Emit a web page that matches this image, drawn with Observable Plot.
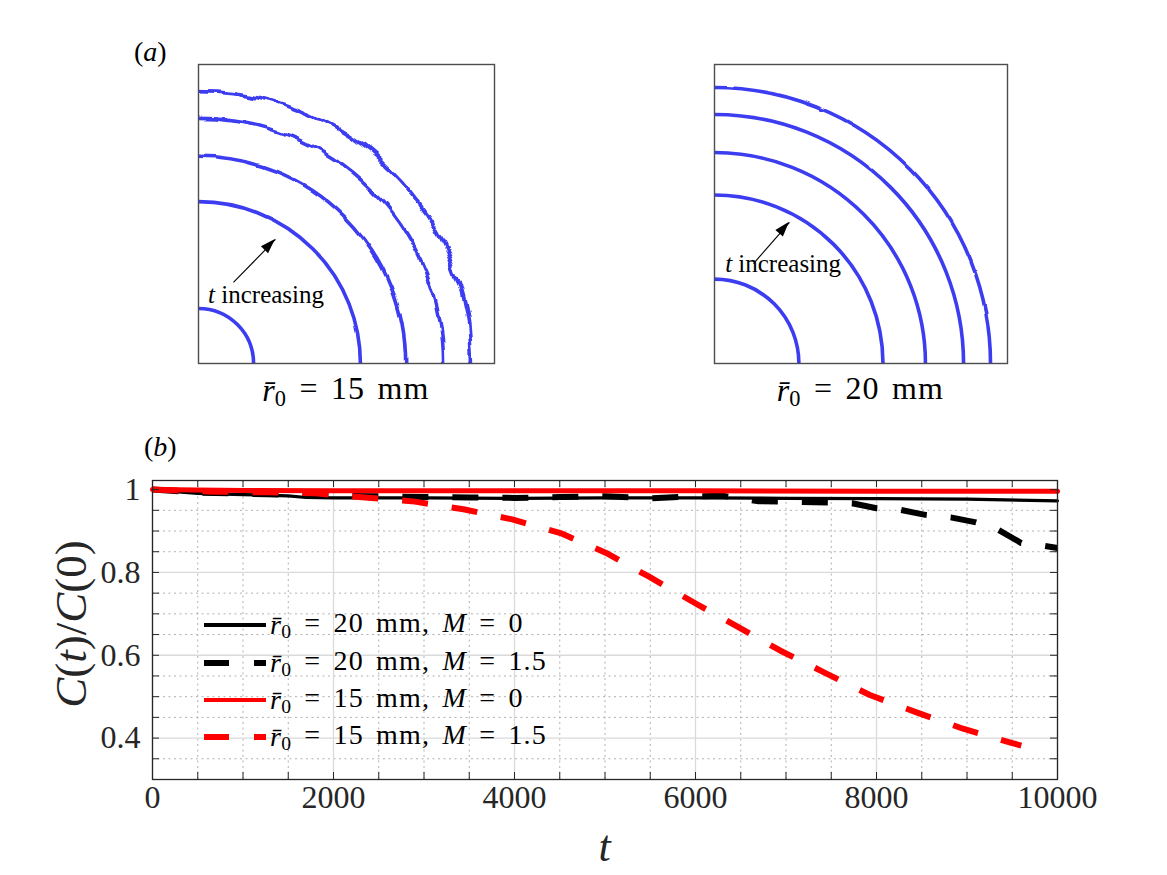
<!DOCTYPE html>
<html><head><meta charset="utf-8">
<script src="https://cdn.jsdelivr.net/npm/d3@7"></script>
<script src="https://cdn.jsdelivr.net/npm/@observablehq/plot@0.6"></script>
<style>
body{margin:0;background:#fff;}
#fig{position:relative;width:1167px;height:875px;background:#fff;overflow:hidden;}
#fig > div{position:absolute;}
</style></head><body>
<div id="fig"><div id="a1" style="left:0;top:0"></div><div id="a2" style="left:500px;top:0"></div><div id="b" style="left:0;top:420px"></div></div>
<script>
// ---------- Panel (a): front radii (fraction of box width), wiggle amplitude (px) ----------
const arcCenter = [0, 0];
const leftRadii = [0.186, 0.547, 0.700, 0.828, 0.922];
const leftWiggle = [0, 1, 2.5, 4, 5.5];
const rightRadii = [0.288, 0.575, 0.720, 0.850, 0.942];
const rightWiggle = [0, 0, 0.4, 0.8, 1.1];
const panelLabels = ["15", "20"];
const leftArrow = {x1: 0.118, y1: 0.271, x2: 0.260, y2: 0.415};
const rightArrow = {x1: 0.133, y1: 0.334, x2: 0.256, y2: 0.472};
const leftNote = {x: 0.034, y: 0.200};
const rightNote = {x: 0.038, y: 0.304};

// ---------- Panel (b): C(t)/C(0) ----------
const tBlackSolid = [0, 250, 500, 1000, 1500, 1700, 2000, 3000, 4000, 5000, 6000, 7000, 8000, 9000, 10000];
const vBlackSolid = [1.0, 0.995, 0.991, 0.988, 0.985, 0.981, 0.980, 0.980, 0.979, 0.980, 0.980, 0.979, 0.978, 0.977, 0.973];
const tBlackDashed = [0, 500, 1000, 1500, 2000, 2500, 3000, 3500, 4000, 4500, 5000, 5500, 6000, 6300, 6700, 7000, 7500, 7730, 8000, 8265, 8540, 8820, 9100, 9330, 9600, 9800, 10000];
const vBlackDashed = [1.0, 0.993, 0.990, 0.988, 0.985, 0.984, 0.982, 0.981, 0.980, 0.982, 0.984, 0.979, 0.984, 0.985, 0.972, 0.971, 0.969, 0.967, 0.955, 0.951, 0.939, 0.933, 0.921, 0.905, 0.871, 0.866, 0.859];
const tRedSolid = [0, 1000, 2000, 4000, 6000, 8000, 10000];
const vRedSolid = [1.0, 0.998, 0.997, 0.997, 0.997, 0.996, 0.996];
const tRedDashed = [0, 700, 1250, 1800, 2350, 2900, 3436, 3975, 4508, 5013, 5492, 5978, 6464, 6939, 7436, 7926, 8442, 8965, 9481, 9600];
const vRedDashed = [1.0, 0.995, 0.9935, 0.991, 0.981, 0.971, 0.9525, 0.928, 0.895, 0.847, 0.789, 0.728, 0.669, 0.611, 0.557, 0.504, 0.462, 0.422, 0.389, 0.382];
const seriesLabels = [["20", "0"], ["20", "1.5"], ["15", "0"], ["15", "1.5"]];
const xMajor = [0, 2000, 4000, 6000, 8000, 10000];
const xTickLabels = ["0", "2000", "4000", "6000", "8000", "10000"];
const xMinor = [500, 1000, 1500, 2500, 3000, 3500, 4500, 5000, 5500, 6500, 7000, 7500, 8500, 9000, 9500];
const yMajor = [0.4, 0.6, 0.8, 1.0];
const yTickLabels = ["0.4", "0.6", "0.8", "1"];
const yMinor = [0.35, 0.45, 0.5, 0.55, 0.65, 0.7, 0.75, 0.85, 0.9, 0.95];

const FONT = "Liberation Serif";
const BLUE = "#3c3cf0";

function rows(ts, vs) { return ts.map((t, i) => ({t, v: vs[i]})); }

function rbarLabel(sel, num) {
  sel.append("tspan").attr("font-style", "italic").text("r\u0304");
  sel.append("tspan").attr("font-size", "0.7em").attr("dx", "-0.05em").attr("dy", "0.22em").text("0");
  sel.append("tspan").attr("dy", "-0.22em").text(" = " + num + " mm");
}

function panelA(el, cfg) {
  const data = cfg.radii.map((r, i) => ({cx: arcCenter[0], cy: arcCenter[1], r, w: cfg.wiggle[i]}));
  const fw = cfg.width - cfg.ml - cfg.mr;
  const svg = Plot.plot({
    width: cfg.width, height: 420, marginLeft: cfg.ml, marginRight: cfg.mr, marginTop: 64, marginBottom: 57,
    x: {domain: [0, 1], axis: null}, y: {domain: [0, 1], axis: null},
    r: {type: "linear", domain: [0, 1], range: [0, fw]},
    style: {background: "transparent", overflow: "visible", fontFamily: FONT},
    marks: [
      Plot.dot(data, {x: "cx", y: "cy", r: "r", stroke: BLUE, strokeWidth: 3.6, fill: "none", clip: true}),
      Plot.link([cfg.arrow], {x1: "x1", y1: "y1", x2: "x2", y2: "y2", stroke: "#000", strokeWidth: 1.1}),
      Plot.frame({stroke: "#4d4d4d", strokeWidth: 1.4})
    ]
  });
  const g = d3.select(svg);
  const sx = svg.scale("x"), sy = svg.scale("y"), sr = svg.scale("r");
  // wiggly fronts
  const defs = g.append("defs");
  g.selectAll("circle").each(function() {
    const rpx = +this.getAttribute("r");
    let best = 0;
    data.forEach((d, i) => { if (Math.abs(sr.apply(d.r) - rpx) < Math.abs(sr.apply(data[best].r) - rpx)) best = i; });
    const amp = data[best].w;
    if (amp > 0) {
      const id = cfg.id + "-w" + best;
      const f = defs.append("filter").attr("id", id).attr("x", "-5%").attr("y", "-5%").attr("width", "110%").attr("height", "110%")
        .attr("color-interpolation-filters", "sRGB");
      f.append("feTurbulence").attr("type", "fractalNoise").attr("baseFrequency", 0.05).attr("numOctaves", 1).attr("seed", best + 3).attr("result", "n");
      f.append("feDisplacementMap").attr("in", "SourceGraphic").attr("in2", "n").attr("scale", amp * 2.4).attr("xChannelSelector", "R").attr("yChannelSelector", "G").attr("result", "d");
      f.append("feGaussianBlur").attr("in", "d").attr("stdDeviation", 0.5);
      this.setAttribute("filter", `url(#${id})`);
    }
  });
  // filled arrow head
  const ax1 = sx.apply(cfg.arrow.x1), ay1 = sy.apply(cfg.arrow.y1), ax2 = sx.apply(cfg.arrow.x2), ay2 = sy.apply(cfg.arrow.y2);
  const ang = Math.atan2(ay2 - ay1, ax2 - ax1), HL = 15, HW = 5;
  const bx = ax2 - HL * Math.cos(ang), by = ay2 - HL * Math.sin(ang);
  g.append("path").attr("fill", "#000")
    .attr("d", `M${ax2},${ay2}L${bx + HW * Math.sin(ang)},${by - HW * Math.cos(ang)}L${bx - HW * Math.sin(ang)},${by + HW * Math.cos(ang)}Z`);
  const note = g.append("text").attr("x", sx.apply(cfg.note.x)).attr("y", sy.apply(cfg.note.y)).attr("text-anchor", "start")
    .attr("font-family", FONT).attr("font-size", 25).attr("fill", "#000");
  note.append("tspan").attr("font-style", "italic").text("t");
  note.append("tspan").text(" increasing");
  const lab = g.append("text").attr("x", cfg.ml + fw / 2).attr("y", 420 - 57 + 38)
    .attr("text-anchor", "middle").attr("font-family", FONT).attr("font-size", 32)
    .attr("letter-spacing", 1.2).attr("word-spacing", 3).attr("fill", "#000");
  rbarLabel(lab, cfg.label);
  if (cfg.tag) {
    const tg = g.append("text").attr("x", 134).attr("y", 61).attr("text-anchor", "start").attr("font-family", FONT).attr("font-size", 28);
    tg.append("tspan").text("(");
    tg.append("tspan").attr("font-style", "italic").text("a");
    tg.append("tspan").text(")");
  }
  document.getElementById(el).appendChild(svg);
}

panelA("a1", {id: "pl", width: 500, ml: 198, mr: 6, radii: leftRadii, wiggle: leftWiggle, arrow: leftArrow, note: leftNote, label: panelLabels[0], tag: true});
panelA("a2", {id: "pr", width: 520, ml: 214, mr: 13, radii: rightRadii, wiggle: rightWiggle, arrow: rightArrow, note: rightNote, label: panelLabels[1], tag: false});

// ---------- Panel (b) ----------
const W = 1167, H = 455, ML = 152, MR = 110, MT = 60, MB = 96;
const FW = W - ML - MR, FH = H - MT - MB, TICK = 7;
const allX = xMajor.concat(xMinor), allY = yMajor.concat(yMinor);
const seriesStyle = [
  {data: rows(tBlackSolid, vBlackSolid), stroke: "#000", width: 3.2, dash: null},
  {data: rows(tBlackDashed, vBlackDashed), stroke: "#000", width: 6, dash: "26,24"},
  {data: rows(tRedSolid, vRedSolid), stroke: "#ff0000", width: 5, dash: null},
  {data: rows(tRedDashed, vRedDashed), stroke: "#ff0000", width: 6, dash: "26,24"}
];
const chartB = Plot.plot({
  width: W, height: H, marginLeft: ML, marginRight: MR, marginTop: MT, marginBottom: MB,
  x: {domain: [0, 10000], axis: null}, y: {domain: [0.3, 1.022], axis: null},
  style: {background: "transparent", overflow: "visible", fontFamily: FONT},
  marks: [
    Plot.ruleX(xMinor, {stroke: "#b0b0b0", strokeWidth: 1, strokeDasharray: "2,3.5"}),
    Plot.ruleY(yMinor, {stroke: "#b0b0b0", strokeWidth: 1, strokeDasharray: "2,3.5"}),
    Plot.ruleX(xMajor, {stroke: "#dadada", strokeWidth: 1.3}),
    Plot.ruleY(yMajor, {stroke: "#dadada", strokeWidth: 1.3}),
    ...seriesStyle.map(s => Plot.line(s.data, {x: "t", y: "v", stroke: s.stroke, strokeWidth: s.width,
      strokeDasharray: s.dash || undefined, strokeLinecap: s.dash ? "butt" : "round", strokeLinejoin: "round"})),
    Plot.ruleX(allX, {stroke: "#262626", strokeWidth: 1, insetTop: FH - TICK}),
    Plot.ruleX(allX, {stroke: "#262626", strokeWidth: 1, insetBottom: FH - TICK}),
    Plot.ruleY(allY, {stroke: "#262626", strokeWidth: 1, insetRight: FW - TICK}),
    Plot.ruleY(allY, {stroke: "#262626", strokeWidth: 1, insetLeft: FW - TICK}),
    Plot.frame({stroke: "#262626", strokeWidth: 1.3}),
    Plot.text(xMajor, {x: d => d, text: (d, i) => xTickLabels[i], frameAnchor: "bottom", dy: 28, fontSize: 32, fontFamily: FONT, fill: "#262626"}),
    Plot.text(yMajor, {y: d => d, text: (d, i) => yTickLabels[i], frameAnchor: "left", textAnchor: "end", dx: -12, fontSize: 32, fontFamily: FONT, fill: "#262626"})
  ]
});
const gb = d3.select(chartB);
// y label
const yl = gb.append("text").attr("transform", "translate(71,204) rotate(-90)").attr("text-anchor", "middle")
  .attr("dominant-baseline", "central").attr("font-family", FONT).attr("font-size", 45).attr("fill", "#262626");
yl.append("tspan").attr("font-style", "italic").text("C");
yl.append("tspan").text("(");
yl.append("tspan").attr("font-style", "italic").text("t");
yl.append("tspan").text(")/");
yl.append("tspan").attr("font-style", "italic").text("C");
yl.append("tspan").text("(0)");
// x label
gb.append("text").attr("x", ML + FW / 2).attr("y", 441).attr("text-anchor", "middle").attr("font-family", FONT)
  .attr("font-size", 44).attr("font-style", "italic").attr("fill", "#262626").text("t");
// (b)
const tb = gb.append("text").attr("x", 144).attr("y", 36).attr("text-anchor", "start").attr("font-family", FONT).attr("font-size", 28);
tb.append("tspan").text("(");
tb.append("tspan").attr("font-style", "italic").text("b");
tb.append("tspan").text(")");
// legend
const legY = [205, 243, 280, 317];
seriesStyle.forEach((s, i) => {
  gb.append("line").attr("x1", 204).attr("x2", 266).attr("y1", legY[i]).attr("y2", legY[i])
    .attr("stroke", s.stroke).attr("stroke-width", s.dash ? 6 : 4).attr("stroke-dasharray", s.dash ? "25,25" : null);
  const t = gb.append("text").attr("x", 270).attr("y", legY[i] + 9).attr("text-anchor", "start").attr("font-family", FONT).attr("font-size", 28)
    .attr("letter-spacing", 1.2).attr("word-spacing", 4).attr("fill", "#000");
  rbarLabel(t, seriesLabels[i][0]);
  t.append("tspan").text(", ");
  t.append("tspan").attr("font-style", "italic").text("M");
  t.append("tspan").text(" = " + seriesLabels[i][1]);
});
document.getElementById("b").appendChild(chartB);
</script></body></html>
